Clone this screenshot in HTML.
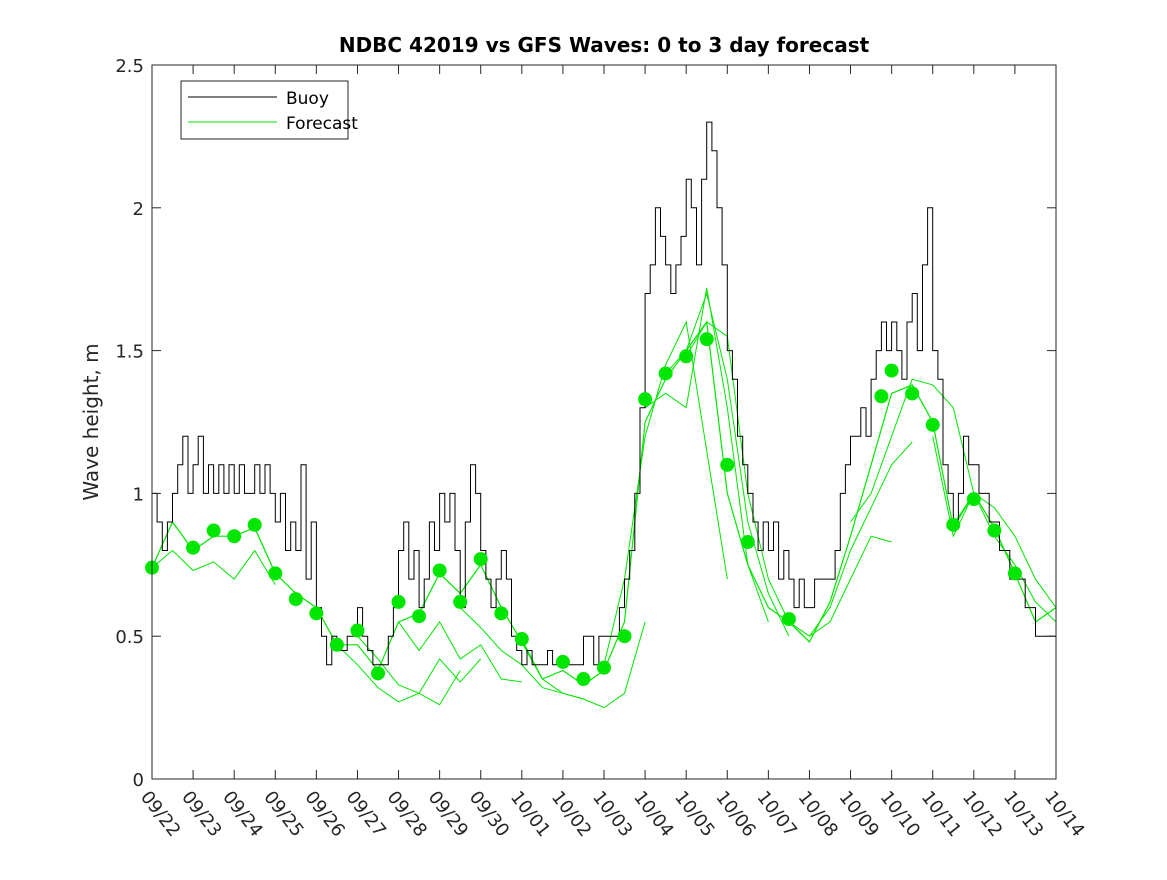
<!DOCTYPE html>
<html><head><meta charset="utf-8"><style>
body{margin:0;background:#fff;}
svg text{font-family:"DejaVu Sans","Liberation Sans",sans-serif;}
</style></head><body>
<svg id="chart" width="1167" height="875" xmlns="http://www.w3.org/2000/svg">
<rect width="1167" height="875" fill="#fff"/>
<text x="604" y="52" text-anchor="middle" font-size="20" font-weight="bold" fill="#000">NDBC 42019 vs GFS Waves: 0 to 3 day forecast</text>
<text transform="translate(98,422) rotate(-90)" text-anchor="middle" font-size="20" fill="#262626">Wave height, m</text>
<g id="plot"></g>
<g id="axes"></g>
<g>
<rect x="181" y="81" width="167" height="58" fill="#fff" stroke="#262626" stroke-width="1"/>
<line x1="188" y1="97" x2="277" y2="97" stroke="#000" stroke-width="1"/>
<text x="286" y="104" font-size="17" fill="#000">Buoy</text>
<line x1="188" y1="122" x2="277" y2="122" stroke="#00e600" stroke-width="1"/>
<text x="286" y="129" font-size="17" fill="#000">Forecast</text>
</g>
</svg>
<script>
const xTickLabels=["09/22","09/23","09/24","09/25","09/26","09/27","09/28","09/29","09/30","10/01","10/02","10/03","10/04","10/05","10/06","10/07","10/08","10/09","10/10","10/11","10/12","10/13","10/14"];
const yTicks=[0,0.5,1,1.5,2,2.5];
const yTickLabels=["0","0.5","1","1.5","2","2.5"];
const buoyStep=0.125;
const buoy=[1.0,0.9,0.8,0.9,1.0,1.1,1.2,1.0,
1.1,1.2,1.0,1.1,1.0,1.1,1.0,1.1,
1.0,1.1,1.0,1.0,1.1,1.0,1.1,1.0,
0.9,1.0,0.8,0.9,0.8,1.1,0.7,0.9,
0.6,0.5,0.4,0.5,0.45,0.45,0.5,0.5,
0.6,0.5,0.45,0.4,0.4,0.4,0.5,0.6,
0.8,0.9,0.7,0.8,0.6,0.7,0.9,0.8,
1.0,0.9,1.0,0.8,0.6,0.9,1.1,1.0,
0.8,0.7,0.6,0.7,0.8,0.7,0.5,0.45,
0.4,0.45,0.4,0.4,0.4,0.45,0.4,0.4,
0.4,0.4,0.4,0.4,0.5,0.5,0.4,0.5,
0.5,0.5,0.5,0.6,0.7,0.8,1.0,1.3,
1.7,1.8,2.0,1.9,1.8,1.7,1.8,1.9,
2.1,2.0,1.8,2.1,2.3,2.2,2.0,1.8,
1.5,1.4,1.2,1.1,1.0,0.9,0.8,0.9,
0.8,0.9,0.7,0.8,0.7,0.6,0.7,0.6,
0.6,0.7,0.7,0.7,0.7,0.8,1.0,1.1,
1.2,1.2,1.3,1.2,1.4,1.5,1.6,1.5,
1.6,1.5,1.4,1.6,1.7,1.5,1.8,2.0,
1.5,1.4,1.1,1.0,0.9,1.0,1.2,1.1,
1.1,1.0,1.0,0.9,0.9,0.8,0.8,0.7,
0.7,0.7,0.6,0.6,0.5,0.5,0.5,0.5,
0.5];
const fcStep=0.5;
const forecastMain=[0.74,0.9,0.8,0.85,0.85,0.88,0.72,0.65,0.6,0.47,0.47,0.38,0.55,0.58,0.72,0.65,0.75,0.6,0.48,0.35,0.38,0.33,0.38,0.55,1.25,1.4,1.5,1.6,1.0,0.75,0.6,0.55,0.48,0.62,0.85,1.1,1.35,1.38,1.25,0.88,1.0,0.88,0.72,0.55,0.6];
const runStarts=[0,4.5,5,6,7.5,11,12,15.5,16,19,12.5,13,17,19.5,9];
const runA=[0.74,0.8,0.73,0.76,0.7,0.8,0.68];
const runB=[0.47,0.4,0.32,0.27,0.3,0.26,0.38];
const runC=[0.5,0.42,0.33,0.3,0.42,0.34,0.42];
const runD=[0.55,0.45,0.55,0.42,0.47,0.35,0.34];
const runE=[0.6,0.53,0.45,0.4,0.32,0.3,0.28];
const runF=[0.4,0.7,1.2,1.45,1.6,1.15,0.7];
const runG=[1.3,1.35,1.3,1.72,1.3,0.75,0.55];
const runH=[0.55,0.5,0.6,0.8,0.95,1.1,1.18];
const runI=[0.5,0.55,0.7,0.85,0.83];
const runJ=[1.2,0.85,1.0,0.85,0.75,0.62,0.55];
const runK=[1.42,1.5,1.7,1.4,0.9,0.65,0.5];
const runL=[1.48,1.6,1.55,1.0,0.7,0.55,0.48];
const runM=[0.9,1.0,1.2,1.4,1.38,1.3,1.0];
const runN=[0.89,1.0,0.95,0.85,0.7,0.6,0.65];
const runO=[0.49,0.35,0.3,0.28,0.25,0.3,0.55];
const runs=[runA,runB,runC,runD,runE,runF,runG,runH,runI,runJ,runK,runL,runM,runN,runO];
const dotDays=[0,1,1.5,2,2.5,3,3.5,4,4.5,5,5.5,6,6.5,7,7.5,8,8.5,9,10,10.5,11,11.5,12,12.5,13,13.5,14,14.5,15.5,17.75,18,18.5,19,19.5,20,20.5,21];
const dotVals=[0.74,0.81,0.87,0.85,0.89,0.72,0.63,0.58,0.47,0.52,0.37,0.62,0.57,0.73,0.62,0.77,0.58,0.49,0.41,0.35,0.39,0.50,1.33,1.42,1.48,1.54,1.10,0.83,0.56,1.34,1.43,1.35,1.24,0.89,0.98,0.87,0.72];

const X0=152,X1=1056,Y0=779,Y1=65;
const xs=d=>X0+(X1-X0)*d/22;
const ys=v=>Y0-(Y0-Y1)*v/2.5;
const NS="http://www.w3.org/2000/svg";
const plot=document.getElementById('plot'),axes=document.getElementById('axes');
function mk(t,a,p){const e=document.createElementNS(NS,t);for(const k in a)e.setAttribute(k,a[k]);p.appendChild(e);return e;}
const clip=mk('clipPath',{id:'cp'},plot);mk('rect',{x:X0,y:Y1,width:X1-X0,height:Y0-Y1},clip);
runs.forEach((r,i)=>{const s=runStarts[i];
 const pts=r.map((v,j)=>xs(s+j*fcStep).toFixed(1)+','+ys(v).toFixed(1)).join(' ');
 const p=mk('polyline',{points:pts,fill:'none',stroke:'#00e600','stroke-width':1,'clip-path':'url(#cp)'},plot);
 
 
});
{const pts=forecastMain.map((v,j)=>xs(j*fcStep).toFixed(1)+','+ys(v).toFixed(1)).join(' ');
 const p=mk('polyline',{points:pts,fill:'none',stroke:'#00e600','stroke-width':1.2,'clip-path':'url(#cp)'},plot);
 
 }
{let d='';buoy.forEach((v,j)=>{const x=xs(j*buoyStep),y=ys(v);d+=(j?'H'+x.toFixed(1)+'V':'M'+x.toFixed(1)+',')+y.toFixed(1);});
 const p=mk('path',{d:d,fill:'none',stroke:'#000','stroke-width':1,'clip-path':'url(#cp)'},plot);
 
 }
dotDays.forEach((d,i)=>{const c=mk('circle',{cx:xs(d),cy:ys(dotVals[i]),r:7,fill:'#00e600'},plot);
 
 });
const box=mk('rect',{x:X0,y:Y1,width:X1-X0,height:Y0-Y1,fill:'none',stroke:'#262626','stroke-width':1},axes);


yTicks.forEach((v,i)=>{const y=ys(v);
 mk('line',{x1:X0,x2:X0+9,y1:y,y2:y,stroke:'#262626'},axes);
 mk('line',{x1:X1,x2:X1-9,y1:y,y2:y,stroke:'#262626'},axes);
 const t=mk('text',{x:X0-8,y:y+7,'text-anchor':'end','font-size':18,fill:'#262626'},axes);t.textContent=yTickLabels[i];
 
 });
xTickLabels.forEach((l,i)=>{const x=xs(i);
 mk('line',{x1:x,x2:x,y1:Y0,y2:Y0-9,stroke:'#262626'},axes);
 mk('line',{x1:x,x2:x,y1:Y1,y2:Y1+9,stroke:'#262626'},axes);
 const t=mk('text',{transform:`translate(${x-12},${Y0+18}) rotate(52)`,'font-size':18,fill:'#262626'},axes);t.textContent=l;
 
 });
</script>
</body></html>
